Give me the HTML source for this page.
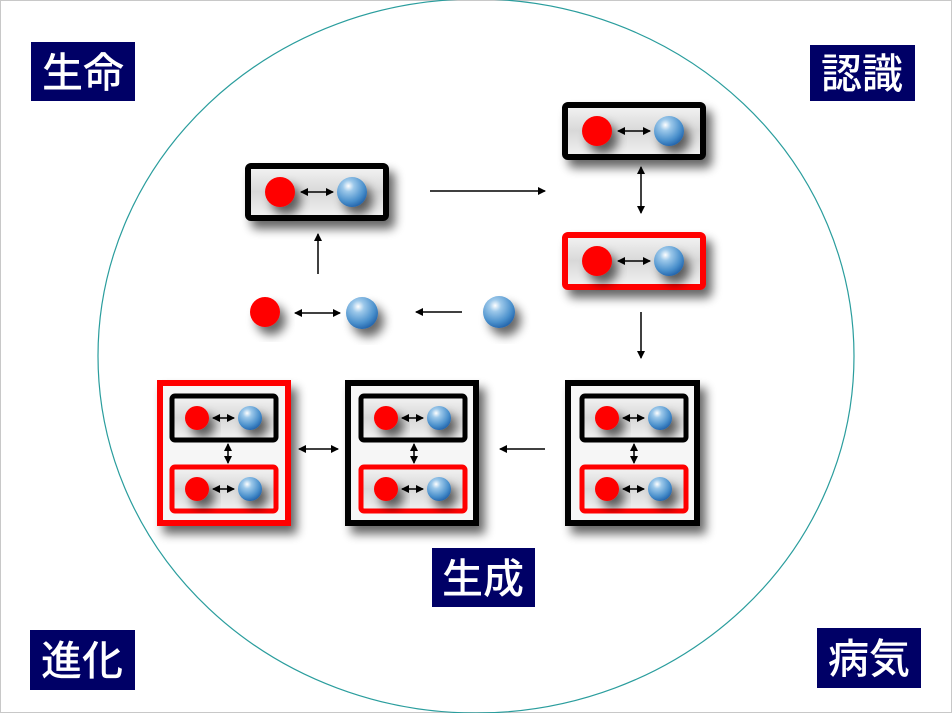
<!DOCTYPE html>
<html><head><meta charset="utf-8"><style>
html,body{margin:0;padding:0;background:#fff;}
svg{display:block;}
.lbl{font-family:"Liberation Sans","Noto Sans CJK JP",sans-serif;font-size:41px;fill:#fff;font-weight:500;}
</style></head><body>
<svg width="952" height="713" viewBox="0 0 952 713" xmlns="http://www.w3.org/2000/svg">
<defs>
<radialGradient id="bg" cx="0.38" cy="0.3" r="0.75">
<stop offset="0" stop-color="#ffffff"/><stop offset="0.25" stop-color="#9cc8ea"/><stop offset="0.7" stop-color="#4a90cc"/><stop offset="1" stop-color="#1e5fa8"/>
</radialGradient>
<linearGradient id="fill" x1="0" y1="0" x2="0" y2="1">
<stop offset="0" stop-color="#f4f4f4"/><stop offset="0.5" stop-color="#d8d8d8"/><stop offset="1" stop-color="#f2f2f2"/>
</linearGradient>
<filter id="sh" x="-50%" y="-50%" width="200%" height="200%">
<feGaussianBlur in="SourceAlpha" stdDeviation="5"/><feOffset dx="6" dy="8"/>
<feComponentTransfer><feFuncA type="linear" slope="0.6"/></feComponentTransfer>
<feMerge><feMergeNode/><feMergeNode in="SourceGraphic"/></feMerge>
</filter>
<marker id="ah" markerWidth="8" markerHeight="8" refX="7" refY="4" orient="auto" markerUnits="userSpaceOnUse"><path d="M0,0 L8,4 L0,8z" fill="#000" stroke="none"/></marker>
<marker id="as" markerWidth="8" markerHeight="8" refX="1" refY="4" orient="auto" markerUnits="userSpaceOnUse"><path d="M8,0 L0,4 L8,8z" fill="#000" stroke="none"/></marker>
<g id="pl">
<rect x="0" y="0" width="138" height="52" rx="3" fill="url(#fill)" stroke-width="6"/>
<circle cx="32" cy="26" r="15" fill="#f00" stroke="none" filter="url(#sh)"/>
<circle cx="104" cy="26" r="15" fill="url(#bg)" stroke="none" filter="url(#sh)"/>
<line x1="53" y1="26" x2="85" y2="26" stroke="#000" stroke-width="1.5" marker-end="url(#ah)" marker-start="url(#as)"/>
</g>
<g id="ps">
<rect x="0" y="0" width="104" height="44" rx="3" fill="url(#fill)" stroke-width="5"/>
<circle cx="25" cy="22" r="12" fill="#f00" stroke="none" filter="url(#sh)"/>
<circle cx="78" cy="22" r="12" fill="url(#bg)" stroke="none" filter="url(#sh)"/>
<line x1="41" y1="22" x2="62" y2="22" stroke="#000" stroke-width="1.5" marker-end="url(#ah)" marker-start="url(#as)"/>
</g>
</defs>
<rect x="0.5" y="0.5" width="951" height="712" fill="#fff" stroke="#c8c8c8"/>
<ellipse cx="476" cy="356" rx="378" ry="357" fill="none" stroke="#2a9d9d" stroke-width="1.2"/>

<rect x="31" y="42" width="104" height="59" fill="#000066"/><text x="83" y="87" class="lbl" text-anchor="middle">生命</text>
<rect x="810" y="45" width="105" height="56" fill="#000066"/><text x="862" y="88" class="lbl" text-anchor="middle">認識</text>
<rect x="30" y="630" width="105" height="60" fill="#000066"/><text x="82" y="675" class="lbl" text-anchor="middle">進化</text>
<rect x="817" y="628" width="104" height="60" fill="#000066"/><text x="869" y="673" class="lbl" text-anchor="middle">病気</text>
<rect x="432" y="548" width="103" height="59" fill="#000066"/><text x="483" y="593" class="lbl" text-anchor="middle">生成</text>

<g filter="url(#sh)">
<use href="#pl" x="248" y="166" stroke="#000"/>
<use href="#pl" x="565" y="105" stroke="#000"/>
<use href="#pl" x="565" y="235" stroke="#f00"/>
<rect x="568" y="383" width="129" height="140" fill="#f6f6f6" stroke="#000" stroke-width="6"/>
<rect x="348" y="383" width="128" height="140" fill="#f6f6f6" stroke="#000" stroke-width="6"/>
<rect x="160" y="383" width="128" height="140" fill="#f6f6f6" stroke="#f00" stroke-width="6"/>
</g>
<use href="#ps" x="582" y="396" stroke="#000"/>
<use href="#ps" x="582" y="467" stroke="#f00"/>
<use href="#ps" x="361" y="396" stroke="#000"/>
<use href="#ps" x="361" y="467" stroke="#f00"/>
<use href="#ps" x="172" y="396" stroke="#000"/>
<use href="#ps" x="172" y="467" stroke="#f00"/>

<circle cx="265" cy="312" r="15" fill="#f00" filter="url(#sh)"/>
<circle cx="362" cy="313" r="16" fill="url(#bg)" filter="url(#sh)"/>
<circle cx="499" cy="312" r="16" fill="url(#bg)" filter="url(#sh)"/>

<g stroke="#000" stroke-width="1.5">
<line x1="430" y1="191" x2="545" y2="191" marker-end="url(#ah)"/>
<line x1="641" y1="167" x2="641" y2="213" marker-end="url(#ah)" marker-start="url(#as)"/>
<line x1="641" y1="312" x2="641" y2="358" marker-end="url(#ah)"/>
<line x1="545" y1="449" x2="500" y2="449" marker-end="url(#ah)"/>
<line x1="299" y1="449" x2="338" y2="449" marker-end="url(#ah)" marker-start="url(#as)"/>
<line x1="462" y1="312" x2="416" y2="312" marker-end="url(#ah)"/>
<line x1="318" y1="274" x2="318" y2="234" marker-end="url(#ah)"/>
<line x1="295" y1="313" x2="340" y2="313" marker-end="url(#ah)" marker-start="url(#as)"/>
<line x1="228" y1="444" x2="228" y2="463" marker-end="url(#ah)" marker-start="url(#as)"/>
<line x1="414" y1="444" x2="414" y2="463" marker-end="url(#ah)" marker-start="url(#as)"/>
<line x1="634" y1="444" x2="634" y2="463" marker-end="url(#ah)" marker-start="url(#as)"/>
</g>
</svg>
</body></html>
